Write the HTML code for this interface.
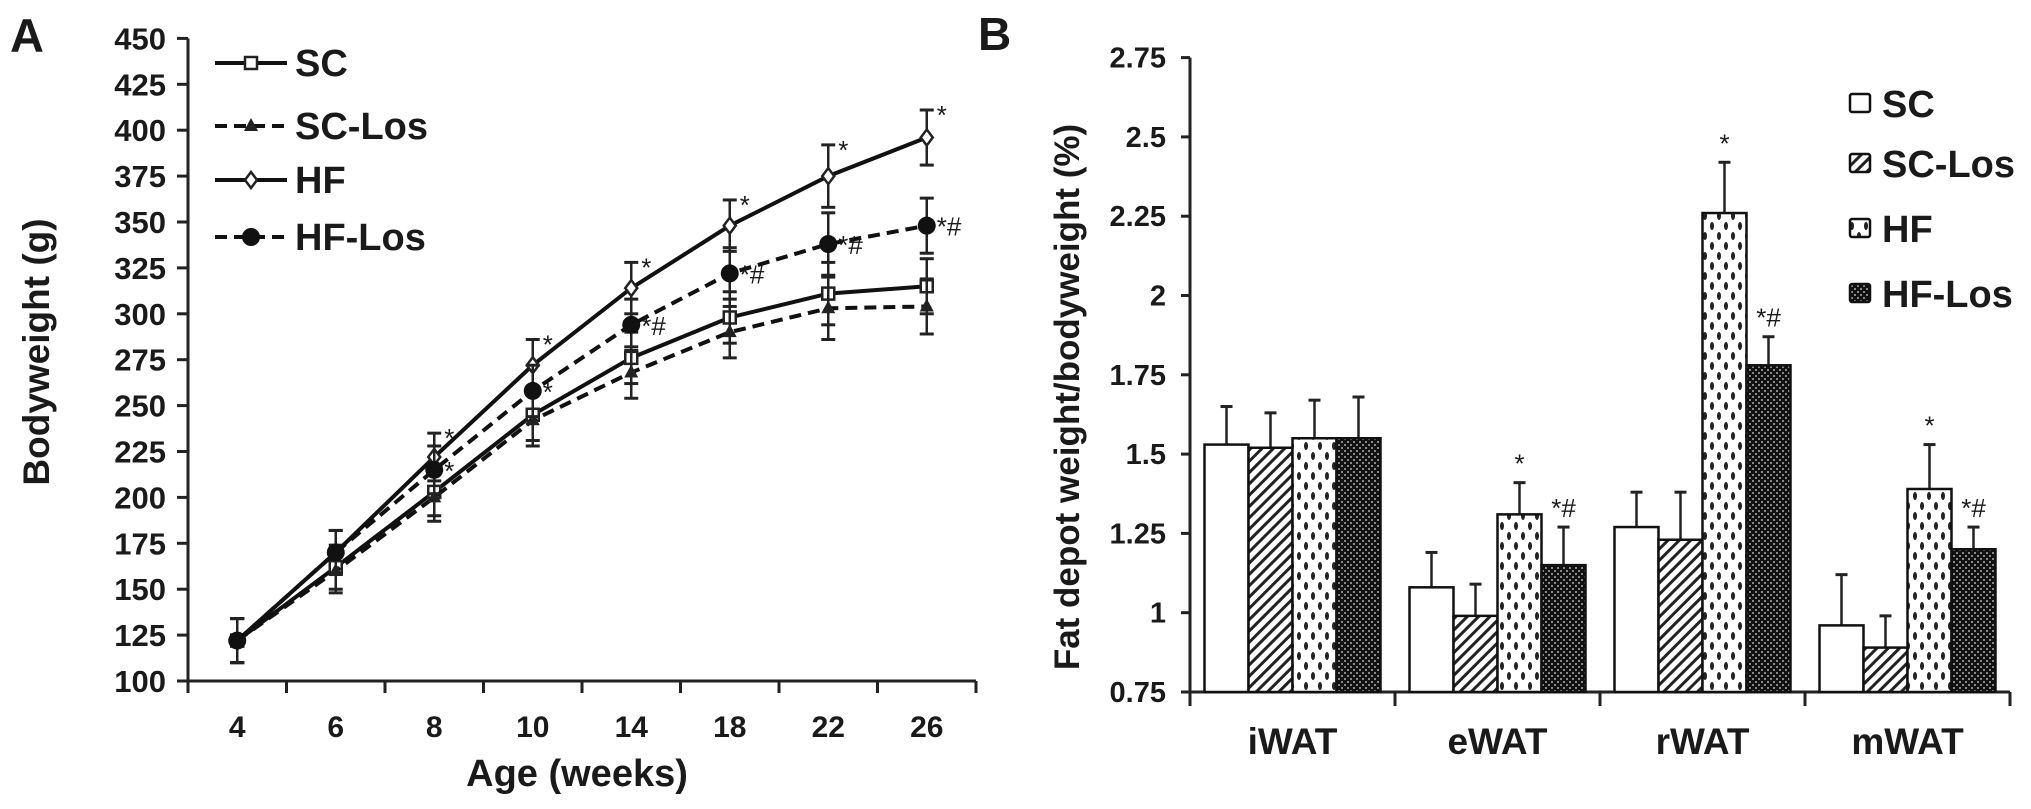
<!DOCTYPE html>
<html><head><meta charset="utf-8"><style>
html,body{margin:0;padding:0;background:#fff;}
svg{display:block;font-family:"Liberation Sans",Arial,sans-serif;font-weight:bold;fill:#1a1a1a;}
</style></head><body>
<svg id="fig" width="2031" height="809" viewBox="0 0 2031 809" xmlns="http://www.w3.org/2000/svg">
<defs>
<pattern id="hatch" patternUnits="userSpaceOnUse" width="8" height="8" patternTransform="rotate(45)">
<rect width="8" height="8" fill="#fff"/><rect width="3" height="8" fill="#222"/></pattern>
<pattern id="dots" patternUnits="userSpaceOnUse" width="14" height="20">
<rect width="14" height="20" fill="#fff"/><ellipse cx="4" cy="6" rx="2" ry="4" fill="#222"/><ellipse cx="11" cy="16" rx="2" ry="4" fill="#222"/></pattern>
<pattern id="check" patternUnits="userSpaceOnUse" width="6" height="6">
<rect width="6" height="6" fill="#111"/><rect x="0" y="0" width="2" height="2" fill="#888"/><rect x="3" y="3" width="2" height="2" fill="#888"/></pattern>
</defs>
<g id="panelA"></g>
<g id="panelB"></g>
</svg>
<script>
// ---- Panel A data ----
const ageLabels = ["4","6","8","10","14","18","22","26"];
const yTicksA = [100,125,150,175,200,225,250,275,300,325,350,375,400,425,450];
const scVals = [122,162,203,245,276,298,311,315];
const scLosVals = [122,160,200,242,268,290,303,304];
const hfVals = [122,170,222,272,314,348,375,396];
const hfLosVals = [122,170,215,258,294,322,338,348];
const errA = [12,12,13,14,14,14,17,15];
const hfMarks = ["","","*","*","*","*","*","*"];
const hfLosMarks = ["","","*","*","*#","*#","*#","*#"];
// ---- Panel B data ----
const depots = ["iWAT","eWAT","rWAT","mWAT"];
const groupNames = ["SC","SC-Los","HF","HF-Los"];
const yTicksB = [0.75,1,1.25,1.5,1.75,2,2.25,2.5,2.75];
const yTickLabelsB = ["0.75","1","1.25","1.5","1.75","2","2.25","2.5","2.75"];
const bSC = [1.53,1.08,1.27,0.96];
const bSCLos = [1.52,0.99,1.23,0.89];
const bHF = [1.55,1.31,2.26,1.39];
const bHFLos = [1.55,1.15,1.78,1.20];
const eSC = [0.12,0.11,0.11,0.16];
const eSCLos = [0.11,0.10,0.15,0.10];
const eHF = [0.12,0.10,0.16,0.14];
const eHFLos = [0.13,0.12,0.09,0.07];
const bHFMarks = ["","*","*","*"];
const bHFLosMarks = ["","*#","*#","*#"];

const NS="http://www.w3.org/2000/svg";
function mk(parent,tag,attrs,text){const e=document.createElementNS(NS,tag);for(const k in attrs)e.setAttribute(k,attrs[k]);if(text!==undefined)e.textContent=text;parent.appendChild(e);return e;}

// ===== Panel A =====
const A=document.getElementById('panelA');
const ax0=188, ay0=681, astep=98.5;
const xA=i=>ax0+astep*(i+0.5);
const yA=v=>ay0-(v-100)/25*45.9;
let t;
t=mk(A,'text',{x:10,y:52,'font-size':47});t.textContent='A';

let l=mk(A,'line',{x1:ax0,y1:yA(450),x2:ax0,y2:ay0,stroke:'#222','stroke-width':3});

l=mk(A,'line',{x1:ax0,y1:ay0,x2:ax0+astep*8,y2:ay0,stroke:'#222','stroke-width':3});

yTicksA.forEach(v=>{
  mk(A,'line',{x1:ax0-11,y1:yA(v),x2:ax0,y2:yA(v),stroke:'#222','stroke-width':3});
  const tt=mk(A,'text',{x:166,y:yA(v)+11,'font-size':31,'text-anchor':'end'},String(v));
  
});
for(let i=0;i<=8;i++) mk(A,'line',{x1:ax0+astep*i,y1:ay0,x2:ax0+astep*i,y2:ay0+12,stroke:'#222','stroke-width':3});
ageLabels.forEach((s,i)=>{
  const tt=mk(A,'text',{x:xA(i),y:ay0+56,'font-size':30,'text-anchor':'middle'},s);
  
});
t=mk(A,'text',{x:577,y:786,'font-size':38,'text-anchor':'middle'},'Age (weeks)');

t=mk(A,'text',{x:0,y:0,'font-size':37,'text-anchor':'middle',transform:'translate(49,352) rotate(-90)'},'Bodyweight (g)');


function marker(g,type,x,y){
  if(type==='sq') mk(g,'rect',{x:x-6,y:y-6,width:12,height:12,fill:'#fff',stroke:'#222','stroke-width':2.5});
  else if(type==='tri') mk(g,'polygon',{points:`${x},${y-8} ${x-7},${y+5} ${x+7},${y+5}`,fill:'#222'});
  else if(type==='dia') mk(g,'polygon',{points:`${x},${y-8} ${x+6},${y} ${x},${y+8} ${x-6},${y}`,fill:'#fff',stroke:'#222','stroke-width':2.5});
  else mk(g,'circle',{cx:x,cy:y,r:9,fill:'#111'});
}
const seriesA=[
 {name:'SC',vals:scVals,dash:'',m:'sq'},
 {name:'SC-Los',vals:scLosVals,dash:'12,7',m:'tri'},
 {name:'HF',vals:hfVals,dash:'',m:'dia'},
 {name:'HF-Los',vals:hfLosVals,dash:'12,7',m:'cir'}];
seriesA.forEach(s=>{
  const g=mk(A,'g',{});
  
  
  s.vals.forEach((v,i)=>{
    const x=xA(i),e=errA[i];
    mk(g,'line',{x1:x,y1:yA(v+e),x2:x,y2:yA(v-e),stroke:'#222','stroke-width':2.5});
    mk(g,'line',{x1:x-7,y1:yA(v+e),x2:x+7,y2:yA(v+e),stroke:'#222','stroke-width':3});
    mk(g,'line',{x1:x-7,y1:yA(v-e),x2:x+7,y2:yA(v-e),stroke:'#222','stroke-width':3});
  });
  const pts=s.vals.map((v,i)=>xA(i)+','+yA(v)).join(' ');
  const pl=mk(g,'polyline',{points:pts,fill:'none',stroke:'#111','stroke-width':4,'stroke-dasharray':s.dash});
  
  
  s.vals.forEach((v,i)=>marker(g,s.m,xA(i),yA(v)));
});
hfVals.forEach((v,i)=>{ if(hfMarks[i]){const tt=mk(A,'text',{x:xA(i)+10,y:yA(v+errA[i])+14,'font-size':26,'font-weight':'normal'},hfMarks[i]);
  }});
hfLosVals.forEach((v,i)=>{ if(hfLosMarks[i]){const tt=mk(A,'text',{x:xA(i)+10,y:yA(v)+10,'font-size':26,'font-weight':'normal'},hfLosMarks[i]);
  }});
// legend A
const legYA=[63,126,180,237];
seriesA.forEach((s,i)=>{
  const g=mk(A,'g',{});
  
  
  mk(g,'line',{x1:215,y1:legYA[i],x2:287,y2:legYA[i],stroke:'#111','stroke-width':4,'stroke-dasharray':s.dash});
  marker(g,s.m,251,legYA[i]);
  mk(g,'text',{x:295,y:legYA[i]+13,'font-size':38},s.name);
});

// ===== Panel B =====
const B=document.getElementById('panelB');
const bx0=1190, by0=692, bstep=205, bw=44;
const yB=v=>by0-(v-0.75)/0.25*79.3;
t=mk(B,'text',{x:978,y:50,'font-size':46},'B');

l=mk(B,'line',{x1:bx0,y1:yB(2.75),x2:bx0,y2:by0,stroke:'#222','stroke-width':3});

l=mk(B,'line',{x1:bx0,y1:by0,x2:bx0+bstep*4,y2:by0,stroke:'#222','stroke-width':3});

yTicksB.forEach((v,i)=>{
  mk(B,'line',{x1:bx0-9,y1:yB(v),x2:bx0,y2:yB(v),stroke:'#222','stroke-width':3});
  const tt=mk(B,'text',{x:bx0-24,y:yB(v)+10,'font-size':29,'text-anchor':'end'},yTickLabelsB[i]);
  
});
for(let i=0;i<=4;i++) mk(B,'line',{x1:bx0+bstep*i,y1:by0,x2:bx0+bstep*i,y2:by0+14,stroke:'#222','stroke-width':3});
depots.forEach((s,i)=>{
  const tt=mk(B,'text',{x:bx0+bstep*(i+0.5),y:by0+62,'font-size':37,'text-anchor':'middle'},s);
  
});
t=mk(B,'text',{x:0,y:0,'font-size':35,'text-anchor':'middle',transform:'translate(1079,397) rotate(-90)'},'Fat depot weight/bodyweight (%)');

const seriesB=[
 {name:'SC',vals:bSC,err:eSC,fill:'#fff'},
 {name:'SC-Los',vals:bSCLos,err:eSCLos,fill:'url(#hatch)'},
 {name:'HF',vals:bHF,err:eHF,fill:'url(#dots)'},
 {name:'HF-Los',vals:bHFLos,err:eHFLos,fill:'url(#check)'}];
seriesB.forEach((s,j)=>{
  s.vals.forEach((v,i)=>{
    const x=bx0+bstep*i+(bstep-4*bw)/2+j*bw, xc=x+bw/2, top=yB(v), et=yB(v+s.err[i]);
    mk(B,'line',{x1:xc,y1:et,x2:xc,y2:top,stroke:'#222','stroke-width':2.5});
    mk(B,'line',{x1:xc-6,y1:et,x2:xc+6,y2:et,stroke:'#222','stroke-width':3});
    const r=mk(B,'rect',{x:x,y:top,width:bw,height:by0-top,fill:s.fill,stroke:'#111','stroke-width':2.5});
    
    
    const mark = j===2?bHFMarks[i]:(j===3?bHFLosMarks[i]:'');
    if(mark){const tt=mk(B,'text',{x:xc,y:et-10,'font-size':26,'font-weight':'normal','text-anchor':'middle'},mark);
      }
  });
});
const legYB=[103,163,228,293];
seriesB.forEach((s,i)=>{
  const g=mk(B,'g',{});
  
  
  mk(g,'rect',{x:1850,y:legYB[i]-9,width:20,height:18,fill:s.fill,stroke:'#111','stroke-width':2.5,rx:2});
  mk(g,'text',{x:1882,y:legYB[i]+14,'font-size':38},s.name);
});
</script>
</body></html>
